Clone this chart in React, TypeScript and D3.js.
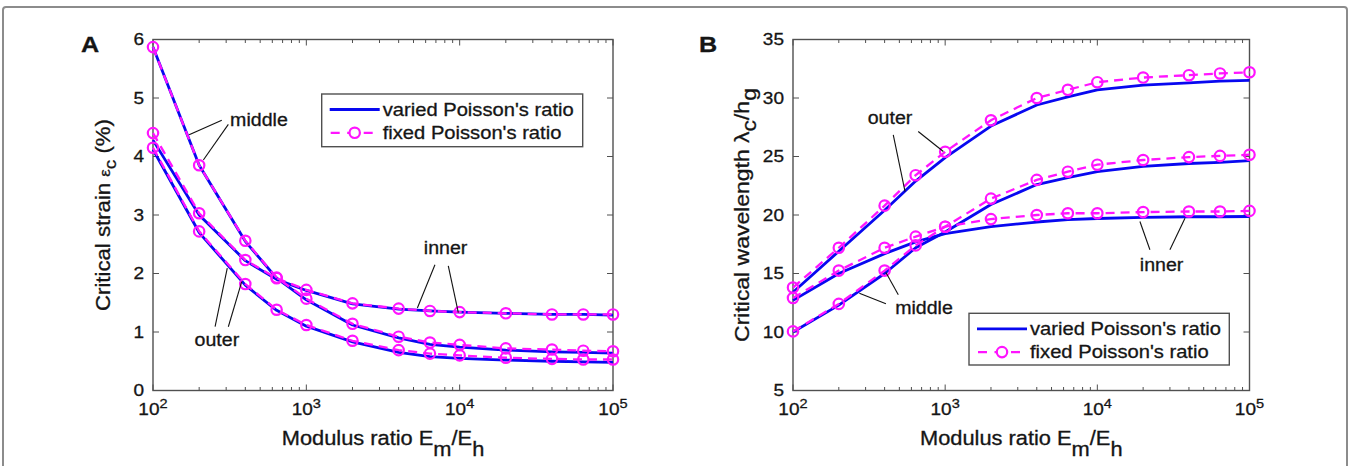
import React from 'react';
import * as d3 from 'd3';

const W = 1351;
const H = 466;

// ---- data ----
const modulusRatio = [100, 200, 400, 640, 1000, 2000, 4000, 6400, 10000, 20000, 40000, 64000, 100000];

// Panel A: critical strain (%)
const strainMiddleVaried = [5.87, 3.85, 2.55, 1.92, 1.55, 1.12, 0.9, 0.79, 0.74, 0.69, 0.66, 0.65, 0.64];
const strainMiddleFixed = [5.87, 3.85, 2.56, 1.93, 1.57, 1.14, 0.92, 0.82, 0.78, 0.72, 0.7, 0.68, 0.67];
const strainInnerVaried = [4.28, 3.0, 2.22, 1.9, 1.71, 1.48, 1.39, 1.36, 1.34, 1.32, 1.3, 1.3, 1.29];
const strainInnerFixed = [4.4, 3.03, 2.23, 1.92, 1.72, 1.49, 1.4, 1.36, 1.34, 1.32, 1.3, 1.3, 1.3];
const strainOuterVaried = [4.12, 2.7, 1.8, 1.37, 1.1, 0.83, 0.65, 0.58, 0.55, 0.52, 0.5, 0.49, 0.48];
const strainOuterFixed = [4.15, 2.72, 1.82, 1.38, 1.12, 0.85, 0.69, 0.63, 0.6, 0.56, 0.54, 0.53, 0.53];

// Panel B: critical wavelength
const waveOuterVaried = [13.4, 16.9, 20.4, 22.9, 24.9, 27.6, 29.4, 30.1, 30.7, 31.1, 31.3, 31.45, 31.5];
const waveOuterFixed = [13.8, 17.2, 20.8, 23.4, 25.4, 28.1, 30.0, 30.7, 31.35, 31.75, 31.95, 32.1, 32.2];
const waveMiddleVaried = [10.0, 12.3, 15.0, 17.2, 18.55, 20.9, 22.6, 23.2, 23.7, 24.15, 24.4, 24.5, 24.65];
const waveMiddleFixed = [10.05, 12.4, 15.25, 17.4, 19.0, 21.4, 23.0, 23.7, 24.3, 24.7, 24.95, 25.05, 25.15];
const waveInnerVaried = [12.7, 15.0, 16.7, 17.7, 18.4, 19.0, 19.4, 19.6, 19.7, 19.8, 19.85, 19.85, 19.87];
const waveInnerFixed = [12.9, 15.25, 17.2, 18.15, 19.0, 19.65, 20.0, 20.15, 20.15, 20.25, 20.3, 20.3, 20.35];

const strainTicks = [0, 1, 2, 3, 4, 5, 6];
const wavelengthTicks = [5, 10, 15, 20, 25, 30, 35];
const decadeExponents = [2, 3, 4, 5];
const legendLabels = ["varied Poisson's ratio", "fixed Poisson's ratio"];

type Pt = [number, number];
type Ann = { label: string; at: Pt; leaders: [Pt, Pt][] };

// annotations in data coordinates
const annotationsA: Ann[] = [
  { label: 'middle', at: [491, 4.62], leaders: [[[281, 4.62], [172, 4.37]], [[310, 4.55], [213, 3.94]]] },
  { label: 'inner', at: [8090, 2.44], leaders: [[[6900, 2.15], [5300, 1.41]], [[8430, 2.13], [9800, 1.33]]] },
  { label: 'outer', at: [261, 0.86], leaders: [[[254, 1.09], [305, 2.09]], [[310, 1.09], [379, 1.86]]] },
];
const annotationsB: Ann[] = [
  { label: 'outer', at: [434, 28.28], leaders: [[[456, 26.85], [545, 22.0]], [[665, 27.14], [973, 25.43]]] },
  { label: 'middle', at: [726, 12.04], leaders: [[[408, 12.41], [273, 13.32]], [[492, 13.18], [408, 15.09]]] },
  { label: 'inner', at: [26450, 15.74], leaders: [[[22160, 17.03], [19050, 19.44]], [[29990, 17.03], [37670, 19.73]]] },
];

// ---- styles ----
const FONT = "'Liberation Sans', Arial, Helvetica, sans-serif";
const SX = 1.12;
const AXIS = '#505050';
const BLUE = '#0808f0';
const MAGENTA = '#ff14ff';
const TEXT = '#151515';

function T(props: {
  x: number; y: number; rotate?: number; size: number; anchor?: string; baseline?: string; weight?: string | number; children: React.ReactNode;
}) {
  const { x, y, rotate = 0, size, anchor = 'start', baseline, weight, children } = props;
  return (
    <text
      transform={`translate(${x},${y}) rotate(${rotate}) scale(${SX},1)`}
      fontSize={size}
      fontFamily={FONT}
      textAnchor={anchor as any}
      dominantBaseline={baseline as any}
      fontWeight={weight as any}
      fill={TEXT}
      stroke={TEXT}
      strokeWidth={0.3}
    >
      {children}
    </text>
  );
}

type Box = { left: number; right: number; top: number; bottom: number };

function Panel(props: {
  letter: string;
  box: Box;
  yDomain: [number, number];
  yTicks: number[];
  series: { varied: number[]; fixed: number[] }[];
  annotations: Ann[];
  yLabel: React.ReactNode;
  yLabelX: number;
  yLabelSize: number;
  legend: { left: number; top: number; width: number; height: number };
  letterX: number;
}) {
  const { letter, box, yDomain, yTicks, series, annotations, yLabel, yLabelX, yLabelSize, legend, letterX } = props;
  const x = d3.scaleLog().domain([100, 100000]).range([box.left, box.right]);
  const y = d3.scaleLinear().domain(yDomain).range([box.bottom, box.top]);
  const line = d3
    .line<number>()
    .x((_, i) => x(modulusRatio[i]))
    .y((d) => y(d));

  const minor: number[] = [];
  for (const e of [2, 3, 4]) for (let k = 2; k <= 9; k++) minor.push(k * Math.pow(10, e));
  const majorLen = 6;
  const minorLen = 3.5;
  const cx = (box.left + box.right) / 2;
  const cy = (box.top + box.bottom) / 2;

  return (
    <g>
      {/* axes box */}
      <rect x={box.left} y={box.top} width={box.right - box.left} height={box.bottom - box.top} fill="white" stroke={AXIS} strokeWidth={1.4} />
      {minor.map((m) => (
        <g key={'m' + m} stroke={AXIS} strokeWidth={1}>
          <line x1={x(m)} x2={x(m)} y1={box.bottom} y2={box.bottom - minorLen} />
          <line x1={x(m)} x2={x(m)} y1={box.top} y2={box.top + minorLen} />
        </g>
      ))}
      {decadeExponents.map((e) => (
        <g key={'M' + e} stroke={AXIS} strokeWidth={1}>
          <line x1={x(Math.pow(10, e))} x2={x(Math.pow(10, e))} y1={box.bottom} y2={box.bottom - majorLen} />
          <line x1={x(Math.pow(10, e))} x2={x(Math.pow(10, e))} y1={box.top} y2={box.top + majorLen} />
        </g>
      ))}
      {yTicks.map((t) => (
        <g key={'y' + t} stroke={AXIS} strokeWidth={1}>
          <line x1={box.left} x2={box.left + majorLen} y1={y(t)} y2={y(t)} />
          <line x1={box.right} x2={box.right - majorLen} y1={y(t)} y2={y(t)} />
        </g>
      ))}
      {/* tick labels */}
      {yTicks.map((t) => (
        <T key={'yl' + t} x={box.left - 9} y={y(t)} size={17} anchor="end" baseline="central">
          {String(t)}
        </T>
      ))}
      {decadeExponents.map((e) => (
        <T key={'xl' + e} x={x(Math.pow(10, e))} y={box.bottom + 24.5} size={17} anchor="middle">
          <tspan>10</tspan>
          <tspan dy={-7} fontSize={13}>
            {String(e)}
          </tspan>
        </T>
      ))}
      {/* axis titles */}
      <T x={cx} y={box.bottom + 54.5} size={19.5} anchor="middle">
        <tspan>Modulus ratio E</tspan>
        <tspan dy={11}>m</tspan>
        <tspan dy={-11}>/E</tspan>
        <tspan dy={11}>h</tspan>
      </T>
      <T x={yLabelX} y={cy} rotate={-90} size={yLabelSize} anchor="middle">
        {yLabel}
      </T>
      <T x={letterX} y={52} size={22.5} weight="bold">
        {letter}
      </T>

      {/* data */}
      {series.map((s, i) => (
        <path key={'v' + i} d={line(s.varied) || ''} fill="none" stroke={BLUE} strokeWidth={2.8} strokeLinejoin="round" />
      ))}
      {series.map((s, i) => (
        <g key={'f' + i}>
          <path d={line(s.fixed) || ''} fill="none" stroke={MAGENTA} strokeWidth={2.3} strokeDasharray="9,6" />
          {s.fixed.map((v, j) => (
            <circle key={j} cx={x(modulusRatio[j])} cy={y(v)} r={5.2} fill="none" stroke={MAGENTA} strokeWidth={2.2} />
          ))}
        </g>
      ))}

      {/* annotations */}
      {annotations.map((a, i) => (
        <g key={'a' + i}>
          {a.leaders.map((l, k) => (
            <line key={k} x1={x(l[0][0])} y1={y(l[0][1])} x2={x(l[1][0])} y2={y(l[1][1])} stroke="#111" strokeWidth={1.1} />
          ))}
          <T x={x(a.at[0])} y={y(a.at[1])} size={17.5} anchor="middle" baseline="central">
            {a.label}
          </T>
        </g>
      ))}

      {/* legend */}
      <g>
        <rect x={legend.left} y={legend.top} width={legend.width} height={legend.height} fill="white" stroke={AXIS} strokeWidth={1.4} />
        {legendLabels.map((lab, i) => {
          const ry = legend.top + 15.5 + i * 23.3;
          const x0 = legend.left + 8;
          const x1 = legend.left + 58;
          return (
            <g key={lab}>
              {i === 0 ? (
                <line x1={x0} x2={x1} y1={ry} y2={ry} stroke={BLUE} strokeWidth={2.8} />
              ) : (
                <g>
                  <line x1={x0} x2={x1} y1={ry} y2={ry} stroke={MAGENTA} strokeWidth={2.3} strokeDasharray="9,7.5" strokeDashoffset={-1} />
                  <circle cx={(x0 + x1) / 2} cy={ry} r={5.2} fill="white" stroke={MAGENTA} strokeWidth={2.2} />
                </g>
              )}
              <T x={legend.left + 61} y={ry} size={18} baseline="central">
                {lab}
              </T>
            </g>
          );
        })}
      </g>
    </g>
  );
}

export default function App() {
  const boxA: Box = { left: 153, right: 613, top: 39.5, bottom: 390.5 };
  const boxB: Box = { left: 793, right: 1249.5, top: 39.5, bottom: 390.5 };
  return (
    <svg width={W} height={H} style={{ position: 'absolute', left: 0, top: 0, background: 'white' }}>
      <rect x={3} y={7} width={1344} height={480} fill="white" stroke="#8c8c8c" strokeWidth={2} rx={3} />
      <Panel
        letter="A"
        letterX={81}
        box={boxA}
        yDomain={[0, 6]}
        yTicks={strainTicks}
        series={[
          { varied: strainMiddleVaried, fixed: strainMiddleFixed },
          { varied: strainInnerVaried, fixed: strainInnerFixed },
          { varied: strainOuterVaried, fixed: strainOuterFixed },
        ]}
        annotations={annotationsA}
        yLabelX={110}
        yLabelSize={19.8}
        yLabel={
          <>
            <tspan>Critical strain </tspan>
            <tspan fontSize={15}>ε</tspan>
            <tspan dy={6} fontSize={17}>c</tspan>
            <tspan dy={-6}> (%)</tspan>
          </>
        }
        legend={{ left: boxA.left + 168.7, top: boxA.top + 54.5, width: 261, height: 52.7 }}
      />
      <Panel
        letter="B"
        letterX={699}
        box={boxB}
        yDomain={[5, 35]}
        yTicks={wavelengthTicks}
        series={[
          { varied: waveOuterVaried, fixed: waveOuterFixed },
          { varied: waveMiddleVaried, fixed: waveMiddleFixed },
          { varied: waveInnerVaried, fixed: waveInnerFixed },
        ]}
        annotations={annotationsB}
        yLabelX={749}
        yLabelSize={20.5}
        yLabel={
          <>
            <tspan>Critical wavelength λ</tspan>
            <tspan dy={7}>c</tspan>
            <tspan dy={-7}>/h</tspan>
            <tspan dy={7}>g</tspan>
          </>
        }
        legend={{ left: boxB.right - 20.2 - 260.3, top: boxB.bottom - 25.5 - 51.7, width: 260.3, height: 51.7 }}
      />
    </svg>
  );
}
